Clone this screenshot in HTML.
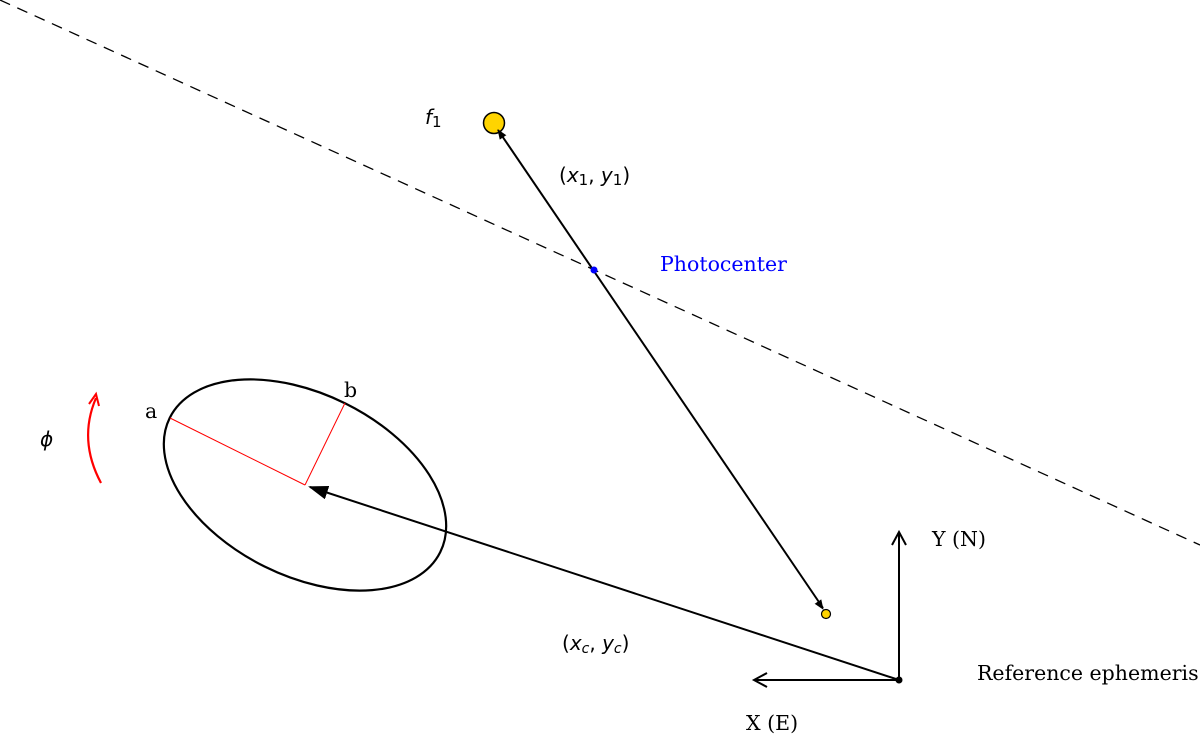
<!DOCTYPE html>
<html><head><style>
html,body{margin:0;padding:0;background:#fff;}
svg{display:block;}
.s{font-family:"DejaVu Serif","Liberation Serif",serif;font-size:20.5px;}
.m{font-family:"DejaVu Sans","Liberation Sans",sans-serif;font-size:20px;}
</style></head><body>
<svg width="1200" height="734" viewBox="0 0 1200 734" xmlns="http://www.w3.org/2000/svg">
<defs>
<marker id="ah" markerWidth="10" markerHeight="8" refX="9" refY="4" orient="auto" markerUnits="userSpaceOnUse"><path d="M0,0 L10,4 L0,8 z" fill="#000"/></marker>
<marker id="big" markerWidth="20" markerHeight="14" refX="18" refY="7" orient="auto" markerUnits="userSpaceOnUse"><path d="M0,0 L20,7 L0,14 z" fill="#000"/></marker>
</defs>
<line x1="0" y1="0" x2="1200" y2="545" stroke="#000" stroke-width="1.3" stroke-dasharray="11,8"/>
<ellipse cx="305" cy="485" rx="151" ry="91" transform="rotate(26.4 305 485)" fill="none" stroke="#000" stroke-width="2.2"/>
<line x1="305" y1="485" x2="170" y2="418" stroke="#f00" stroke-width="1"/>
<line x1="305" y1="485" x2="345" y2="403" stroke="#f00" stroke-width="1"/>
<line x1="899" y1="680" x2="310" y2="487" stroke="#000" stroke-width="2" marker-end="url(#big)"/>
<line x1="899" y1="680" x2="899" y2="532" stroke="#000" stroke-width="2"/>
<polyline points="892,545 899,532 906,545" fill="none" stroke="#000" stroke-width="2"/>
<line x1="899" y1="680" x2="754" y2="680" stroke="#000" stroke-width="2"/>
<polyline points="767,673 754,680 767,687" fill="none" stroke="#000" stroke-width="2"/>
<circle cx="899" cy="680" r="3.5" fill="#000"/>
<circle cx="494" cy="123" r="10.5" fill="#ffd400" stroke="#000" stroke-width="1.5"/>
<circle cx="826" cy="614" r="4.5" fill="#ffd400" stroke="#000" stroke-width="1.2"/>
<line x1="823" y1="608" x2="498" y2="130" stroke="#000" stroke-width="2" marker-end="url(#ah)"/>
<line x1="498" y1="130" x2="823" y2="609" stroke="#000" stroke-width="0.1" marker-end="url(#ah)"/>
<circle cx="594" cy="270" r="3.5" fill="#00f"/>
<path d="M101,483 Q78,440 96,398" fill="none" stroke="#f00" stroke-width="2.2"/>
<polyline points="89,404 96,394 99,406" fill="none" stroke="#f00" stroke-width="2"/>
<text x="660" y="271" class="s" fill="#0000ff">Photocenter</text>
<text x="425" y="124" class="m" font-style="italic">f<tspan font-style="normal" font-size="15" dy="3">1</tspan></text>
<text x="559" y="182" class="m">(<tspan font-style="italic">x</tspan><tspan font-size="15" dy="3">1</tspan><tspan dy="-3">, </tspan><tspan font-style="italic">y</tspan><tspan font-size="15" dy="3">1</tspan><tspan dy="-3">)</tspan></text>
<text x="562" y="650" class="m">(<tspan font-style="italic">x</tspan><tspan font-size="14" font-style="italic" dy="3">c</tspan><tspan dy="-3">, </tspan><tspan font-style="italic">y</tspan><tspan font-size="14" font-style="italic" dy="3">c</tspan><tspan dy="-3">)</tspan></text>
<text x="145" y="418" class="s">a</text>
<text x="344" y="397" class="s">b</text>
<text x="40" y="446" class="m" font-style="italic">ϕ</text>
<text x="932" y="546" class="s">Y (N)</text>
<text x="746" y="730" class="s">X (E)</text>
<text x="977" y="680" class="s">Reference ephemeris</text>
</svg>
</body></html>
